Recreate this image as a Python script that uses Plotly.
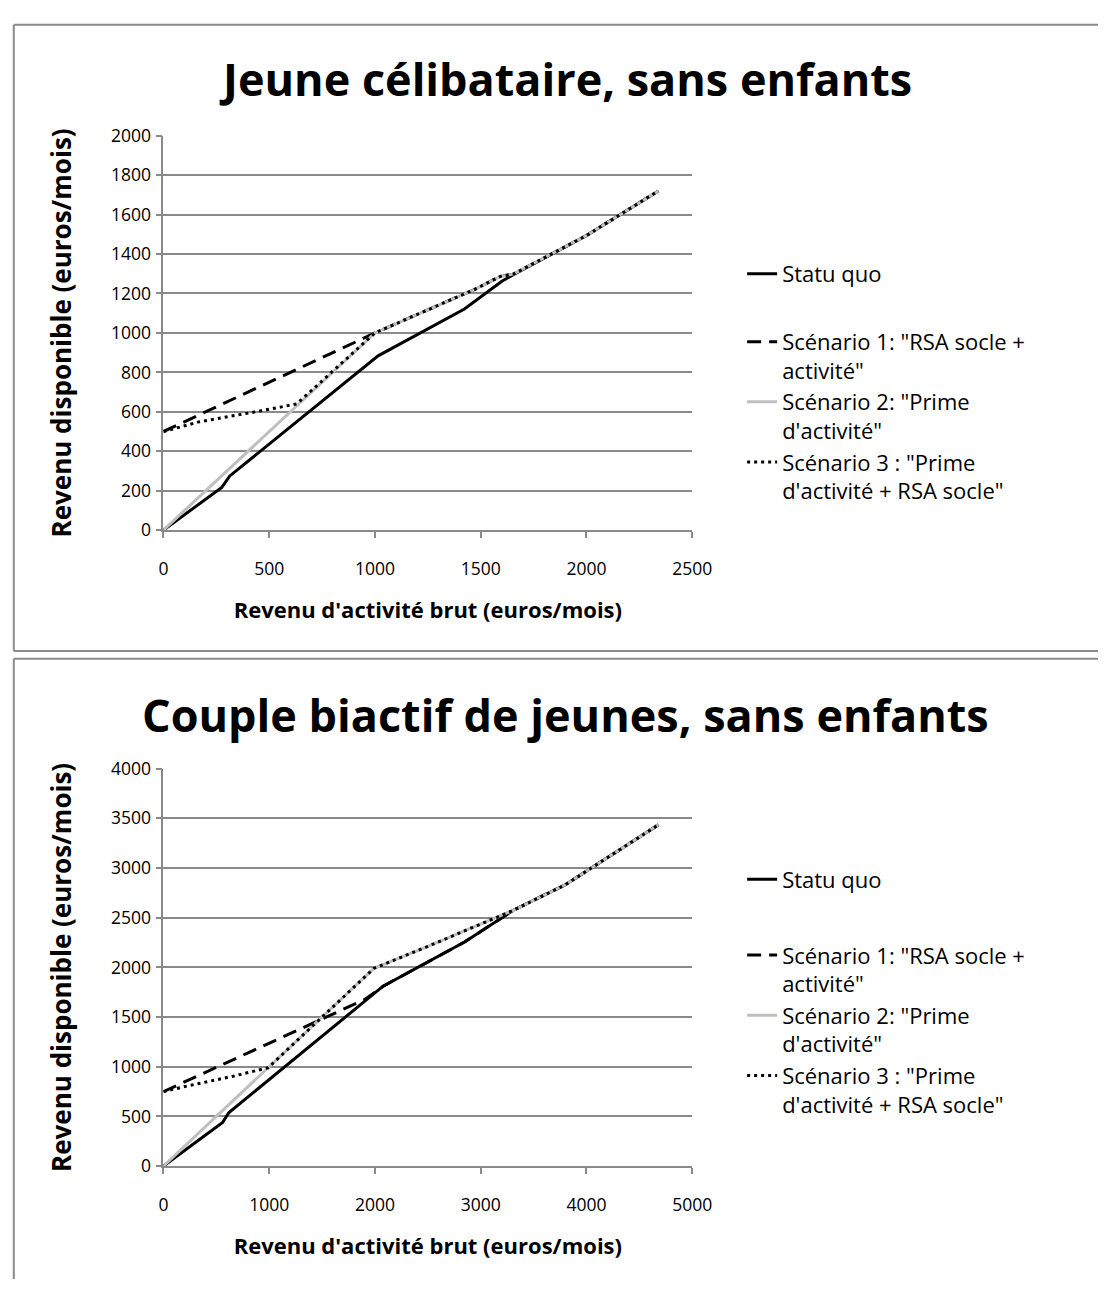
import plotly.graph_objects as go

W, H = 1118, 1290

# ---------- Chart 1 : Jeune célibataire ----------
c1_sq_x = [0, 276, 314, 1015, 1423, 1600, 1654, 2000, 2340]
c1_sq_y = [0, 217, 275, 884, 1121, 1262, 1295, 1494, 1720]
c1_s1_x = [0, 1000, 1470, 1593, 1654, 2000, 2340]
c1_s1_y = [500, 1000, 1220, 1287, 1298, 1494, 1720]
c1_s2_x = [0, 1000, 1470, 1593, 1654, 2000, 2340]
c1_s2_y = [0, 1000, 1220, 1287, 1298, 1494, 1720]
c1_s3_x = [0, 168, 430, 630, 1000, 1470, 1593, 1654, 2000, 2340]
c1_s3_y = [500, 549, 599, 640, 1000, 1220, 1287, 1298, 1494, 1720]

# ---------- Chart 2 : Couple biactif ----------
c2_sq_x = [0, 560, 620, 2015, 2077, 2847, 3017, 3309, 3800, 4680]
c2_sq_y = [0, 440, 540, 1761, 1811, 2255, 2370, 2575, 2832, 3435]
c2_s1_x = [0, 1907, 2015, 2077, 2847, 3017, 3309, 3800, 4680]
c2_s1_y = [750, 1679, 1761, 1811, 2255, 2370, 2575, 2832, 3435]
c2_s2_x = [0, 1990, 2507, 3309, 3800, 4680]
c2_s2_y = [0, 1990, 2215, 2575, 2832, 3435]
c2_s3_x = [0, 228, 659, 990, 1990, 2507, 3309, 3800, 4680]
c2_s3_y = [750, 807, 905, 990, 1990, 2215, 2575, 2832, 3435]

names = ["Statu quo",
         "Scénario 1: \"RSA socle +<br>activité\"",
         "Scénario 2: \"Prime<br>d'activité\"",
         "Scénario 3 : \"Prime<br>d'activité + RSA socle\""]
titles = ["Jeune célibataire, sans enfants", "Couple biactif de jeunes, sans enfants"]
x_title = "Revenu d'activité brut (euros/mois)"
y_title = "Revenu disponible (euros/mois)"

FONT = "Open Sans"
BLACK = "#000000"
GREY = "#BFBFBF"
GRID = "#8A8A8A"
BORDER = "#8A8A8A"

styles = [dict(color=BLACK, width=3),
          dict(color=BLACK, width=3, dash="14px,8px"),
          dict(color=GREY, width=3),
          dict(color=BLACK, width=3, dash="3px,4px")]

fig = go.Figure()

charts = [
    (c1_sq_x, c1_sq_y, c1_s1_x, c1_s1_y, c1_s2_x, c1_s2_y, c1_s3_x, c1_s3_y),
    (c2_sq_x, c2_sq_y, c2_s1_x, c2_s1_y, c2_s2_x, c2_s2_y, c2_s3_x, c2_s3_y),
]

legend_ids = [("legend", "legend2"), ("legend3", "legend4")]

for ci, data in enumerate(charts):
    xa = "x" if ci == 0 else "x2"
    ya = "y" if ci == 0 else "y2"
    for si in range(4):
        lg = legend_ids[ci][0] if si == 0 else legend_ids[ci][1]
        fig.add_trace(go.Scatter(
            x=data[2 * si], y=data[2 * si + 1], mode="lines",
            name=names[si], line=styles[si], xaxis=xa, yaxis=ya,
            legend=lg, hoverinfo="skip"))

def px2x(p):
    return p / W

def px2y(p):
    return 1 - p / H

axis_common = dict(showline=True, linecolor=GRID, linewidth=1.5,
                   ticks="outside", ticklen=6, tickcolor=GRID, tickwidth=1.5,
                   zeroline=False, tickfont=dict(family=FONT, size=17.5, color="#000"))

xt_font = dict(family=FONT, size=22, color="#000")
yt_font = dict(family=FONT, size=26, color="#000")

fig.update_layout(
    width=W, height=H, margin=dict(l=0, r=0, t=0, b=0),
    paper_bgcolor="white", plot_bgcolor="white", showlegend=True,
    xaxis=dict(domain=[px2x(162), px2x(703)], range=[0, 2500], dtick=500, anchor="y",
               showgrid=False, ticklabelstandoff=16,
               title=dict(text="<b>" + x_title + "</b>", standoff=24, font=xt_font),
               **axis_common),
    yaxis=dict(domain=[px2y(527), px2y(125)], range=[0, 2000], dtick=200, anchor="x",
               showgrid=True, gridcolor=GRID, gridwidth=1.5, ticklabelstandoff=1,
               title=dict(text="<b>" + y_title + "</b>", standoff=32, font=yt_font),
               **axis_common),
    xaxis2=dict(domain=[px2x(162), px2x(703)], range=[0, 5000], dtick=1000, anchor="y2",
                showgrid=False, ticklabelstandoff=16,
                title=dict(text="<b>" + x_title + "</b>", standoff=24, font=xt_font),
                **axis_common),
    yaxis2=dict(domain=[px2y(1175), px2y(770)], range=[0, 4000], dtick=500, anchor="x2",
                showgrid=True, gridcolor=GRID, gridwidth=1.5, ticklabelstandoff=1,
                title=dict(text="<b>" + y_title + "</b>", standoff=32, font=yt_font),
                **axis_common),
)

leg_common = dict(font=dict(family=FONT, size=22, color="#000"), bgcolor="rgba(0,0,0,0)",
                  valign="top", xanchor="left", yanchor="middle", tracegroupgap=0,
                  itemwidth=30)
fig.update_layout(
    legend=dict(x=px2x(754), y=px2y(266), **leg_common),
    legend2=dict(x=px2x(754), y=px2y(411), **leg_common),
    legend3=dict(x=px2x(754), y=px2y(883), **leg_common),
    legend4=dict(x=px2x(754), y=px2y(1036), **leg_common),
)

# panel borders (right edge and bottom of the lower panel run off the picture)
def hline(y, x0, x1):
    fig.add_shape(type="line", xref="paper", yref="paper", x0=px2x(x0), x1=px2x(x1),
                  y0=px2y(y), y1=px2y(y), line=dict(color=BORDER, width=2))

def vline(x, y0, y1):
    fig.add_shape(type="line", xref="paper", yref="paper", x0=px2x(x), x1=px2x(x),
                  y0=px2y(y0), y1=px2y(y1), line=dict(color=BORDER, width=2))

hline(12, 9, 1118)
hline(650, 9, 1118)
vline(9, 12, 650)
hline(658, 9, 1118)
vline(9, 658, 1290)

for t, py in zip(titles, [67, 715]):
    fig.add_annotation(text="<b>" + t + "</b>", xref="paper", yref="paper",
                       x=px2x(573), y=px2y(py), showarrow=False,
                       font=dict(family=FONT, size=45, color="#000"),
                       xanchor="center", yanchor="middle")

fig.write_html("out.html",
               config={"displayModeBar": False},
               post_script="document.body.style.margin='0';document.body.style.overflow='hidden';")
